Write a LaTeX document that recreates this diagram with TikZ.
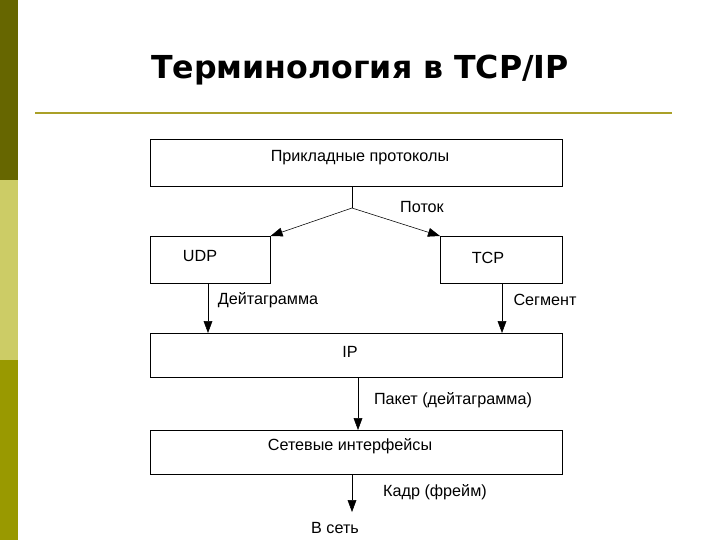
\documentclass[tikz,border=0pt]{standalone}
\usepackage{fontspec}
\setmainfont{Liberation Sans}
\newfontfamily\titlefont{DejaVu Sans}
\usetikzlibrary{arrows.meta, positioning, calc}
\definecolor{barolive}{RGB}{102, 102, 0}
\definecolor{barlight}{RGB}{204, 204, 102}
\definecolor{barmid}{RGB}{153, 153, 0}
\definecolor{ruleolive}{RGB}{170, 160, 40}
\tikzset{
    layerbox/.style={rectangle, draw=black, thin, anchor=north west, inner sep=0pt},
    lbl/.style={font=\fontsize{11.5}{13}\selectfont, inner sep=1pt},
    arrow/.style={-{Triangle[length=3mm, width=2.2mm]}, thin},
}

\begin{document}
\begin{tikzpicture}[x=0.025cm, y=-0.025cm]
            \useasboundingbox (0,0) rectangle (720,540);
            % side bar
            \fill[barolive] (0,0) rectangle (18,180);
            \fill[barlight] (0,180) rectangle (18,360);
            \fill[barmid] (0,360) rectangle (18,540);
            \node[font=\titlefont\bfseries\fontsize{22.5}{26}\selectfont] (title) at (360,70) {Терминология в TCP/IP};
            \draw[ruleolive, line width=1pt] (35,113) -- (672,113);

            \node[layerbox, minimum width=412*0.025cm, minimum height=47*0.025cm] (app) at (150,139) {};
            \node[layerbox, minimum width=120*0.025cm, minimum height=47*0.025cm] (udp) at (150,236) {};
            \node[layerbox, minimum width=122*0.025cm, minimum height=47*0.025cm] (tcp) at (440,236) {};
            \node[layerbox, minimum width=412*0.025cm, minimum height=44*0.025cm] (ip) at (150,333) {};
            \node[layerbox, minimum width=412*0.025cm, minimum height=44*0.025cm] (net) at (150,430) {};

            \node[lbl] at (360,158) {Прикладные протоколы};
            \node[lbl] at (200,256) {UDP};
            \node[lbl] at (488,258) {TCP};
            \node[lbl] at (350,352) {IP};
            \node[lbl] at (350,446) {Сетевые интерфейсы};

            \coordinate (split) at (352,208);
            \draw (app.south west -| split) -- (split);
            \draw[arrow] (split) -- (udp.north east);
            \draw[arrow] (split) -- (tcp.north west);
            \node[lbl] at (422,207) {Поток};

            \draw[arrow] (udp.south west) ++(58,0) coordinate (u) -- (u |- ip.north);
            \node[lbl] at (268,300) {Дейтаграмма};
            \draw[arrow] (tcp.south west) ++(62,0) coordinate (t) -- (t |- ip.north);
            \node[lbl] at (545,300) {Сегмент};
            \draw[arrow] (ip.south west) ++(208,0) coordinate (p) -- (p |- net.north);
            \node[lbl] at (453,400) {Пакет (дейтаграмма)};
            \coordinate (out) at (352,512);
            \draw[arrow] (net.south west -| out) -- (out);
            \node[lbl] at (435,492) {Кадр (фрейм)};
            \node[lbl] at (335,528) {В сеть};
\end{tikzpicture}
\end{document}
